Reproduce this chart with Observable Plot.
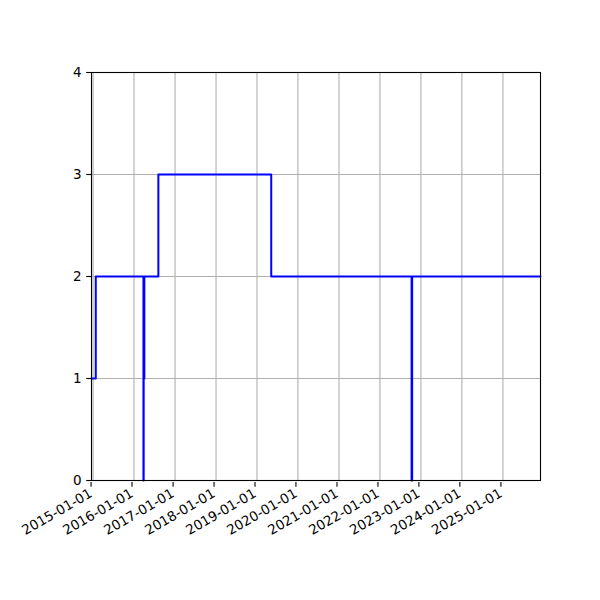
<!DOCTYPE html>
<html>
<head>
<meta charset="utf-8">
<script src="https://cdn.jsdelivr.net/npm/d3@7"></script>
<script src="https://cdn.jsdelivr.net/npm/@observablehq/plot@0.6"></script>
<style>
  html, body { margin: 0; padding: 0; background: white; }
</style>
</head>
<body>
<div id="chart"></div>
<script>
// Step series (value holds until next date)
const dates = ["2014-12-18", "2015-01-25", "2016-03-25", "2016-03-27", "2016-04-02", "2016-08-05", "2019-05-08", "2022-10-10", "2022-10-15", "2025-12-02"];
const values = [1, 2, 0, 1, 2, 3, 2, 0, 2, 2];
const xTickLabels = ["2015-01-01", "2016-01-01", "2017-01-01", "2018-01-01", "2019-01-01", "2020-01-01", "2021-01-01", "2022-01-01", "2023-01-01", "2024-01-01", "2025-01-01"];
const yTicks = [0, 1, 2, 3, 4];

const data = dates.map((d, i) => ({date: new Date(d + "T00:00:00Z"), value: values[i]}));
const xTicks = xTickLabels.map(s => new Date(s + "T00:00:00Z"));

const chart = Plot.plot({
  width: 600,
  height: 600,
  marginLeft: 91,
  marginRight: 60,
  marginTop: 72,
  marginBottom: 120,
  style: {fontFamily: "DejaVu Sans", fontSize: "13.5px", background: "white", color: "black"},
  x: {type: "utc", domain: [data[0].date, data[data.length - 1].date]},
  y: {domain: [0, 4]},
  marks: [
    Plot.gridX(xTicks, {stroke: "#b0b0b0", strokeOpacity: 1, strokeWidth: 1.1}),
    Plot.gridY(yTicks, {stroke: "#b0b0b0", strokeOpacity: 1, strokeWidth: 1.1}),
    Plot.line(data, {x: "date", y: "value", curve: "step-after", stroke: "blue", strokeWidth: 2}),
    Plot.frame({stroke: "black", strokeWidth: 1.1}),
    Plot.axisX(xTicks, {
      tickFormat: d3.utcFormat("%Y-%m-%d"),
      tickRotate: -30,
      tickSize: 4.8,
      tickPadding: 5,
      dx: -2,
      dy: 2,
      label: null,
      fontSize: 13.5,
      fill: "black",
      stroke: "black",
      strokeWidth: 1.1
    }),
    Plot.axisY(yTicks, {
      tickFormat: d => String(d),
      tickSize: 4.8,
      tickPadding: 5,
      label: null,
      fontSize: 13.5,
      fill: "black",
      stroke: "black",
      strokeWidth: 1.1
    })
  ]
});
document.getElementById("chart").appendChild(chart);
</script>
</body>
</html>
